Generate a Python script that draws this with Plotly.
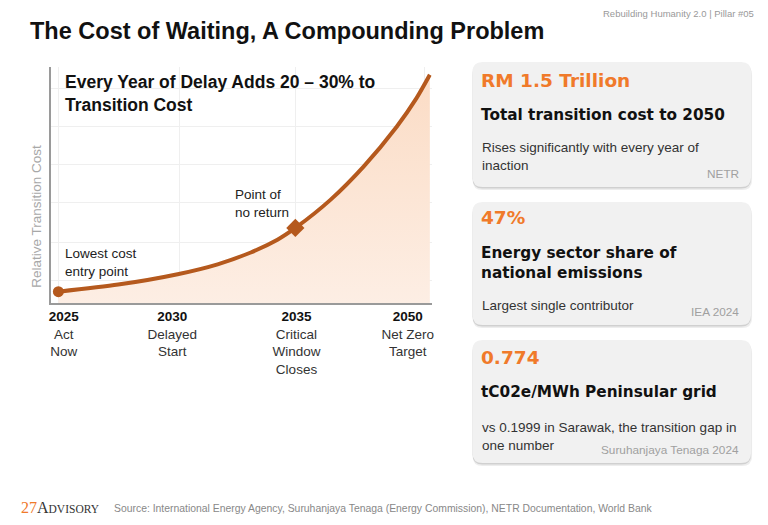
import plotly.graph_objects as go

# curve (x: position along timeline 0-100, y: relative cost 0-100)
curve_x = [2.0, 17.7, 33.3, 43.8, 52.5, 59.5, 64.2, 73.4, 82.1, 90.8, 96.0, 99.5]
curve_y = [4.8, 7.8, 12.2, 16.4, 21.4, 26.8, 31.8, 43.7, 57.8, 74.7, 86.8, 96.7]
start_idx, pnr_idx = 0, 6

tick_pos = [3.4, 31.9, 64.5, 93.7]
tick_years = ["2025", "2030", "2035", "2050"]
tick_sub = ["Act<br>Now", "Delayed<br>Start", "Critical<br>Window<br>Closes", "Net Zero<br>Target"]

cards = [
    ("RM 1.5 Trillion", "Total transition cost to 2050",
     "Rises significantly with every year of<br>inaction", "NETR"),
    ("47%", "Energy sector share of<br>national emissions",
     "Largest single contributor", "IEA 2024"),
    ("0.774", "tC02e/MWh Peninsular grid",
     "vs 0.1999 in Sarawak, the transition gap in<br>one number", "Suruhanjaya Tenaga 2024"),
]

W, H = 768, 525
FONT = "Liberation Sans, Arial, sans-serif"
HEAVY = "DejaVu Sans, Verdana, sans-serif"
LINE = "#b5591d"
ORANGE = "#f07a2a"


def px(x):
    return x / W


def py(y):
    return 1 - y / H


def rounded(x0, y0, x1, y1, r):
    # rounded rectangle in paper coords, from pixel box
    return (f"M {px(x0+r)},{py(y0)} L {px(x1-r)},{py(y0)} "
            f"Q {px(x1)},{py(y0)} {px(x1)},{py(y0+r)} L {px(x1)},{py(y1-r)} "
            f"Q {px(x1)},{py(y1)} {px(x1-r)},{py(y1)} L {px(x0+r)},{py(y1)} "
            f"Q {px(x0)},{py(y1)} {px(x0)},{py(y1-r)} L {px(x0)},{py(y0+r)} "
            f"Q {px(x0)},{py(y0)} {px(x0+r)},{py(y0)} Z")


fig = go.Figure()

fig.add_trace(go.Scatter(
    x=curve_x, y=curve_y, mode="lines", line=dict(color=LINE, width=4, shape="spline", smoothing=0.7),
    fill="tozeroy",
    fillgradient=dict(type="vertical", colorscale=[[0, "rgba(253,238,228,1)"], [1, "rgba(251,220,197,1)"]]),
    hoverinfo="skip", showlegend=False,
))
fig.add_trace(go.Scatter(
    x=[curve_x[start_idx]], y=[curve_y[start_idx]], mode="markers",
    marker=dict(color=LINE, size=11, symbol="circle"), showlegend=False,
))
fig.add_trace(go.Scatter(
    x=[curve_x[pnr_idx]], y=[curve_y[pnr_idx]], mode="markers",
    marker=dict(color=LINE, size=14, symbol="diamond"), showlegend=False,
))
# invisible trace so the grid axis gets drawn
fig.add_trace(go.Scatter(x=[0, 100], y=[0, 0], xaxis="x2", mode="markers",
                         marker=dict(opacity=0), hoverinfo="skip", showlegend=False))

ticktext = [f"<b>{y}</b><br><span style='color:#333'>{s}</span>" for y, s in zip(tick_years, tick_sub)]

fig.update_layout(
    xaxis=dict(
        range=[0, 100], tickvals=tick_pos, ticktext=ticktext, showgrid=False, zeroline=False,
        showline=True, linecolor="#9a9a9a", linewidth=2, ticks="",
        tickfont=dict(size=13.5, color="#111", family=FONT), domain=[px(49), px(432)],
    ),
    xaxis2=dict(
        range=[0, 100], overlaying="x", tickvals=[2.1, 33.7, 64.2, 98.2], showticklabels=False,
        showgrid=True, gridcolor="#efefef", zeroline=False, showline=False, ticks="",
        domain=[px(49), px(432)], layer="below traces",
    ),
    yaxis=dict(
        range=[0, 100], showticklabels=False, zeroline=False,
        gridcolor="#efefef", gridwidth=1, tickvals=[9.4, 25.8, 42.4, 58.9, 74.6, 91.1],
        showline=True, linecolor="#9a9a9a", linewidth=2, ticks="",
        domain=[py(303), py(67)],
    ),
)

shapes = []
annotations = []

# chart annotations
annotations.append(dict(xref="paper", yref="paper", x=px(61), y=py(93), xanchor="left", yanchor="middle",
                        align="left", showarrow=False,
                        text="<b>Every Year of Delay Adds 20 – 30% to<br>Transition Cost</b>",
                        font=dict(size=17.5, color="#111", family=FONT)))
annotations.append(dict(xref="paper", yref="paper", x=px(34), y=py(216), xanchor="center", yanchor="middle",
                        textangle=-90, showarrow=False, text="Relative Transition Cost",
                        font=dict(size=13.5, color="#a8a8a8", family=FONT)))
annotations.append(dict(xref="paper", yref="paper", x=px(61), y=py(262), xanchor="left", yanchor="middle",
                        align="left", showarrow=False, text="Lowest cost<br>entry point",
                        font=dict(size=13.5, color="#222", family=FONT)))
annotations.append(dict(xref="paper", yref="paper", x=px(232), y=py(203), xanchor="left", yanchor="middle",
                        align="left", showarrow=False, text="Point of<br>no return",
                        font=dict(size=13.5, color="#222", family=FONT)))

# cards
card_boxes = [(473, 62, 753, 187), (473, 202, 753, 325), (473, 340, 753, 463)]
big_y = [80, 218, 357]
head_y = [115, 263, 392]
body_y = [156, 305, 436]
for i, ((x0, y0, x1, y1), (big, head, body, src)) in enumerate(zip(card_boxes, cards)):
    shapes.append(dict(type="path", xref="paper", yref="paper", path=rounded(x0, y0 + 3, x1 + 1, y1 + 3, 10),
                       fillcolor="rgba(0,0,0,0.07)", line=dict(width=0), layer="below"))
    shapes.append(dict(type="path", xref="paper", yref="paper", path=rounded(x0, y0 + 1, x1, y1 + 1.5, 10),
                       fillcolor="rgba(0,0,0,0.12)", line=dict(width=0), layer="below"))
    shapes.append(dict(type="path", xref="paper", yref="paper", path=rounded(x0, y0, x1, y1, 10),
                       fillcolor="#f1f1f1", line=dict(width=0), layer="below"))
    annotations.append(dict(xref="paper", yref="paper", x=px(x0 + 6), y=py(big_y[i]), xanchor="left",
                            yanchor="middle", showarrow=False, text=f"<b>{big}</b>",
                            font=dict(size=18.5, color=ORANGE, family=HEAVY)))
    annotations.append(dict(xref="paper", yref="paper", x=px(x0 + 6), y=py(head_y[i]), xanchor="left",
                            yanchor="middle", align="left", showarrow=False, text=f"<b>{head}</b>",
                            font=dict(size=15.3, color="#111", family=HEAVY)))
    annotations.append(dict(xref="paper", yref="paper", x=px(x0 + 7), y=py(body_y[i]), xanchor="left",
                            yanchor="middle", align="left", showarrow=False, text=body,
                            font=dict(size=13.5, color="#333", family=FONT)))
    annotations.append(dict(xref="paper", yref="paper", x=px(x1 - 10), y=py(y1 - 13), xanchor="right",
                            yanchor="middle", showarrow=False, text=src,
                            font=dict(size=11.8, color="#a0a0a0", family=FONT)))

# header / footer
annotations.append(dict(xref="paper", yref="paper", x=px(26), y=py(31), xanchor="left", yanchor="middle",
                        showarrow=False, text="<b>The Cost of Waiting, A Compounding Problem</b>",
                        font=dict(size=23.5, color="#111", family=FONT)))
annotations.append(dict(xref="paper", yref="paper", x=px(758), y=py(13), xanchor="right", yanchor="middle",
                        showarrow=False, text="Rebuilding Humanity 2.0 | Pillar #05",
                        font=dict(size=9.5, color="#999", family=FONT)))
annotations.append(dict(xref="paper", yref="paper", x=px(17), y=py(507), xanchor="left", yanchor="middle",
                        showarrow=False,
                        text="<span style='color:#f07a2a'>27</span><span style='color:#333'>A<span style='font-size:11.5px'>DVISORY</span></span>",
                        font=dict(size=16, family="Liberation Serif, Times New Roman, serif")))
annotations.append(dict(xref="paper", yref="paper", x=px(111), y=py(508), xanchor="left", yanchor="middle",
                        showarrow=False,
                        text="Source: International Energy Agency, Suruhanjaya Tenaga (Energy Commission), NETR Documentation, World Bank",
                        font=dict(size=10.4, color="#888", family=FONT)))

fig.update_layout(
    width=W, height=H, margin=dict(l=0, r=0, t=0, b=0),
    paper_bgcolor="white", plot_bgcolor="white",
    shapes=shapes, annotations=annotations, showlegend=False,
    font=dict(family=FONT),
)

fig.write_html("out.html", config={"displayModeBar": False},
               post_script="document.body.style.margin='0px';")
